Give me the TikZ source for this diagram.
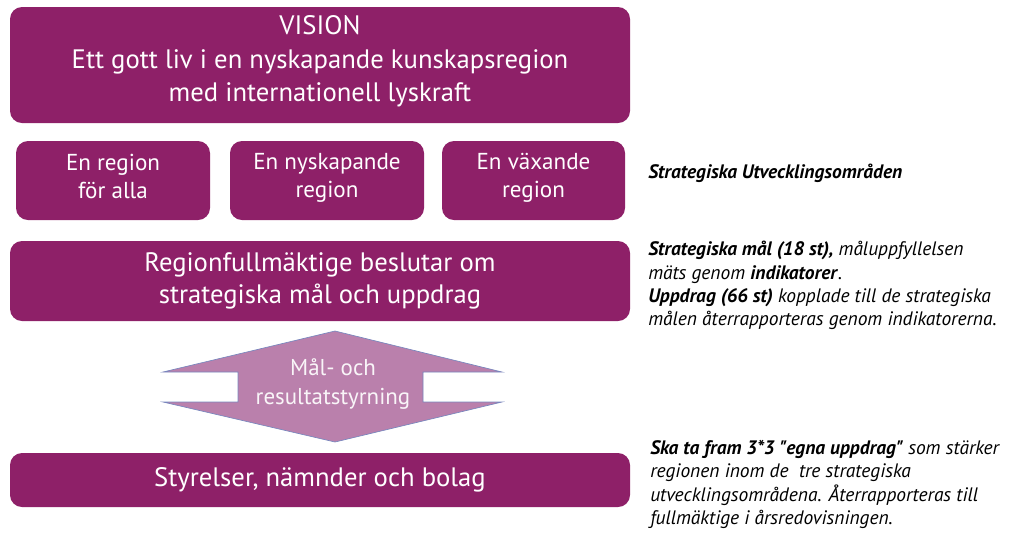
\documentclass[tikz,border=0pt]{standalone}
\usepackage{fontspec}
\setmainfont{PT Sans}
\definecolor{plum}{RGB}{142,32,104}
\definecolor{lilac}{RGB}{186,128,172}
\definecolor{edgeblue}{RGB}{120,135,190}
\tikzset{
  box/.style={rounded corners=9pt, fill=plum, text=white, align=center, inner sep=0pt},
  area/.style={box, minimum width=145.5pt, minimum height=59.25pt, text depth=7pt, font=\fontsize{17.3}{21}\selectfont},
  note/.style={anchor=north west, align=left, inner sep=0pt, font=\fontsize{14.6}{17.5}\selectfont}
}
\begin{document}
\begin{tikzpicture}[x=0.75pt,y=-0.75pt]
  \useasboundingbox (0,0) rectangle (1024,537);

        \node[box] (vision) at (320,65) [minimum width=465pt, minimum height=87pt, text depth=9.5pt, font=\fontsize{20}{25}\selectfont]
                {VISION\\Ett gott liv i en nyskapande kunskapsregion\\med internationell lyskraft};
        \node[area] (alla) at (113,180.5)   {En region\\för alla};
        \node[area] (nysk) at (327,180.5)   {En nyskapande\\region};
        \node[area] (vaxa) at (533.5,180.5) [minimum width=137.25pt] {En växande\\region};
        \node[box] (fullm) at (320,281) [minimum width=465pt, minimum height=60pt, font=\fontsize{20}{24}\selectfont]
                {Regionfullmäktige beslutar om\\strategiska mål och uppdrag};
        \node[box] (styr) at (320,480) [minimum width=465pt, minimum height=40.5pt, font=\fontsize{20}{24}\selectfont]
                {Styrelser, nämnder och bolag};

        % double arrow between the boxes
        \draw[fill=lilac, draw=edgeblue, line width=0.5pt]
          (335,331) -- (502,372) -- (423,372) -- (423,402) -- (502,402) -- (335,442)
          -- (163,402) -- (238,402) -- (238,372) -- (163,372) -- cycle;
        \node (styrn) at (333,384) [text=white!92!lilac, align=center, font=\fontsize{17.2}{21.8}\selectfont]
                {Mål- och\\resultatstyrning};

        \begin{scope}[every node/.style={note}]
          \node (sut) at (648,164) {\textbf{\textit{Strategiska Utvecklingsområden}}};
          \node (mal) at (648,241) {\textbf{\textit{Strategiska mål (18 st),}} \textit{måluppfyllelsen}\\
                \textit{mäts genom} \textbf{\textit{indikatorer}}\textit{.}\\
                \textbf{\textit{Uppdrag (66 st)}} \textit{kopplade till de strategiska}\\
                \textit{målen återrapporteras genom indikatorerna.}};
          \node (egna) at (650,440) {\textbf{\textit{Ska ta fram 3*3 \textquotedbl egna uppdrag\textquotedbl}} \textit{som stärker}\\
                \textit{regionen inom de\ \ tre strategiska}\\
                \textit{utvecklingsområdena. Återrapporteras till}\\
                \textit{fullmäktige i årsredovisningen.}};
        \end{scope}

\end{tikzpicture}
\end{document}
